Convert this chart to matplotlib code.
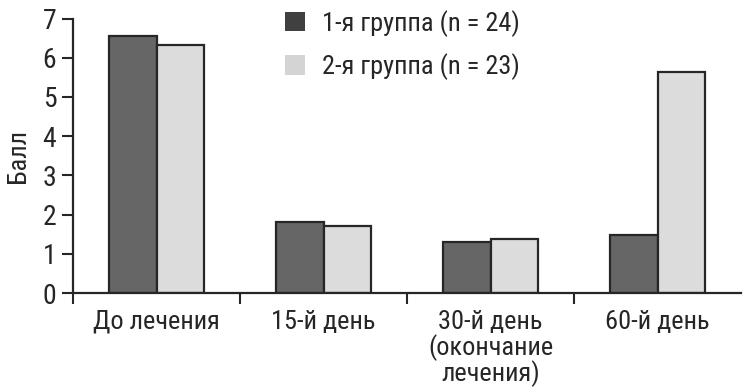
import matplotlib
matplotlib.use("Agg")
import matplotlib.pyplot as plt
from matplotlib.patches import Patch
import numpy as np

categories = ["До лечения", "15-й день", "30-й день\n(окончание\nлечения)", "60-й день"]
group1 = [6.55, 1.80, 1.31, 1.48]
group2 = [6.32, 1.70, 1.37, 5.64]
series_labels = ["1-я группа (n = 24)", "2-я группа (n = 23)"]
y_ticks = [0, 1, 2, 3, 4, 5, 6, 7]
y_label = "Балл"

plt.rcParams['font.family'] = ['Roboto Condensed', 'DejaVu Sans']
ink = "#262626"
FS = 19

fig = plt.figure(figsize=(7.49, 3.92), dpi=100)
ax = fig.add_axes([73/749, 1-293/392, (741-73)/749, (293-18.5)/392])

x = np.arange(len(categories))
w = 0.285
ax.bar(x - w/2, group1, w, color="#666666", edgecolor=ink, linewidth=1.6)
ax.bar(x + w/2, group2, w, color="#dcdcdc", edgecolor=ink, linewidth=1.6)

ax.set_xlim(-0.5, len(categories) - 0.5)
ax.set_ylim(0, 7)
ax.set_yticks(y_ticks)
ax.set_yticklabels([str(t) for t in y_ticks], fontsize=FS + 1, color=ink)

ax.set_xticks(np.arange(-0.5, len(categories) - 1, 1.0))
ax.set_xticklabels([])
ax.set_xticks(x, minor=True)
ax.set_xticklabels(categories, minor=True, fontsize=FS, color=ink, linespacing=1.0, va="top")
ax.tick_params(axis="x", which="minor", length=0, pad=12)
ax.tick_params(axis="x", which="major", length=8, width=1.5, color=ink, direction="out")
ax.tick_params(axis="y", length=8, width=1.5, color=ink, direction="out", pad=4)

for s in ["top", "right"]:
    ax.spines[s].set_visible(False)
for s in ["left", "bottom"]:
    ax.spines[s].set_linewidth(1.6)
    ax.spines[s].set_color(ink)

ax.set_ylabel(y_label, fontsize=FS, color=ink, labelpad=9)

handles = [Patch(facecolor="#404040", edgecolor="none"),
           Patch(facecolor="#d4d4d4", edgecolor="none")]
ax.legend(handles, series_labels, loc="upper left",
          bbox_to_anchor=(285/749, 1 - 10/392), bbox_transform=fig.transFigure,
          frameon=False, fontsize=FS, handlelength=0.75, handleheight=0.75,
          handletextpad=0.65, labelspacing=0.62, borderpad=0, borderaxespad=0,
          labelcolor=ink)

fig.savefig("out.png", dpi=100)
